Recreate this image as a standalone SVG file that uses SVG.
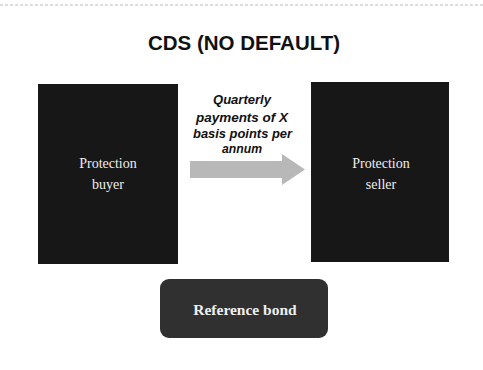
<svg xmlns="http://www.w3.org/2000/svg" width="483" height="370" viewBox="0 0 483 370">
<style>
.box{fill:#171717}
.lbl{font-family:"Liberation Serif",serif;font-size:14px;fill:#eeeeee;text-anchor:middle}
.pay{font-family:"Liberation Sans",Arial,sans-serif;font-size:12.5px;font-style:italic;font-weight:bold;fill:#111}
</style>
<rect width="483" height="370" fill="#ffffff"/>
<line x1="0" y1="5" x2="483" y2="5" stroke="#bbbbbb" stroke-width="1" stroke-dasharray="3 2"/>
<text x="244" y="50" font-family="Liberation Sans,Arial,sans-serif" font-size="20.5" font-weight="bold" fill="#111" text-anchor="middle">CDS (NO DEFAULT)</text>
<g id="buyer">
<rect class="box" x="38" y="84" width="140" height="180"/>
<text class="lbl" x="108" y="168">Protection</text>
<text class="lbl" x="108" y="189">buyer</text>
</g>
<g id="seller">
<rect class="box" x="311" y="82" width="138" height="180"/>
<text class="lbl" x="381" y="168">Protection</text>
<text class="lbl" x="381" y="189">seller</text>
</g>
<g id="reference">
<rect x="160" y="279" width="168" height="59" rx="9" fill="#303030"/>
<text x="245" y="315" font-family="Liberation Serif,serif" font-size="15.5" font-weight="bold" fill="#eeeeee" text-anchor="middle">Reference bond</text>
</g>
<g id="connectors">
<polygon points="190,161 282,161 282,154 305,169.5 282,185 282,178 190,178" fill="#b8b8b8"/>
<text class="pay" x="213" y="104" textLength="58" lengthAdjust="spacingAndGlyphs">Quarterly</text>
<text class="pay" x="196" y="122" textLength="92" lengthAdjust="spacingAndGlyphs">payments of X</text>
<text class="pay" x="193" y="138" textLength="99" lengthAdjust="spacingAndGlyphs">basis points per</text>
<text class="pay" x="222" y="153" textLength="40" lengthAdjust="spacingAndGlyphs">annum</text>
</g>
</svg>
